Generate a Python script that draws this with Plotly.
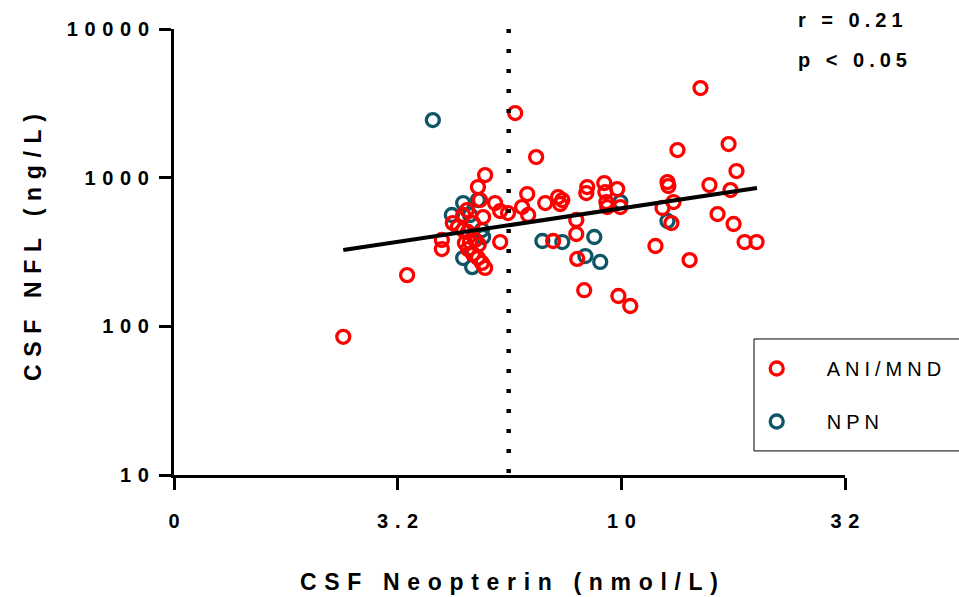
import plotly.graph_objects as go

# ---------------- data ----------------
ani_x = [2.39, 3.32, 3.97, 3.97, 4.20, 4.31, 4.43, 4.52, 4.54, 4.59, 4.47, 4.54,
         4.66, 4.66, 4.78, 4.78, 4.88, 4.96, 4.96, 4.83, 5.22, 5.36, 5.58, 5.36,
         5.79, 6.45, 6.16, 6.00, 6.19, 6.76, 7.22, 7.38, 7.30, 7.04, 7.93, 7.93,
         7.97, 8.26, 8.39, 8.35, 9.16, 9.21, 9.26, 9.30, 9.79, 9.95, 9.85, 10.47,
         11.92, 12.36, 12.68, 12.74, 13.08, 12.94, 13.35, 14.21, 15.03, 15.74,
         16.41, 17.37, 17.54, 17.82, 18.09, 18.86, 20.06, 4.91, 4.43, 4.71, 4.80]
ani_y = [85, 221, 381, 331, 495, 465, 444, 605, 431, 369, 363, 331,
         495, 306, 865, 288, 267, 247, 1041, 707, 675, 596, 578, 369,
         2719, 1376, 776, 634, 561, 675, 740, 707, 665, 375, 519, 418,
         284, 175, 865, 788, 920, 800, 685, 634, 838, 634, 160, 137,
         347, 625, 934, 878, 685, 495, 1533, 279, 4005, 892,
         569, 1683, 825, 488, 1108, 369, 369, 543, 561, 381, 355]

npn_x = [3.79, 4.18, 4.43, 4.78, 4.91, 4.43, 4.64, 4.88, 6.66, 7.38, 8.70,
         8.31, 8.97, 9.95, 12.68, 4.59]
npn_y = [2440, 561, 675, 707, 399, 288, 250, 444, 375, 369, 399,
         297, 271, 685, 511, 561]

fit_x = [2.39, 20.1]
fit_y = [326, 851]

neopterin_cutoff = 5.6

x_tickvals = [1, 3.1623, 10, 31.623]
x_ticktext = ["0", "3.2", "10", "32"]
y_tickvals = [10, 100, 1000, 10000]
y_ticktext = ["10", "100", "1000", "10000"]

series_names = ["ANI/MND", "NPN"]
x_title = "CSF Neopterin (nmol/L)"
y_title = "CSF NFL (ng/L)"
stats_lines = ["r = 0.21", "p < 0.05"]

# ---------------- styling ----------------
FONT = "Liberation Sans, Arial, sans-serif"
RED = "#FF0000"
TEAL = "#0E5565"
SP = "\u2004"
SP_SMALL = "\u2005"


def spaced(s, gap=SP):
    return gap.join(s)


fig = go.Figure()

fig.add_trace(go.Scatter(
    x=npn_x, y=npn_y, mode="markers", name=spaced(series_names[1], SP_SMALL),
    legendgroup="b", legendrank=2,
    marker=dict(symbol="circle-open", size=13, color=TEAL, line=dict(width=3.3, color=TEAL)),
))
fig.add_trace(go.Scatter(
    x=ani_x, y=ani_y, mode="markers", name=spaced(series_names[0], SP_SMALL),
    legendgroup="a", legendrank=1,
    marker=dict(symbol="circle-open", size=13, color=RED, line=dict(width=3.3, color=RED)),
))
fig.add_trace(go.Scatter(
    x=[neopterin_cutoff, neopterin_cutoff], y=[10000, 10], mode="lines",
    line=dict(color="black", width=4.5, dash="4px,16px"), showlegend=False, hoverinfo="skip",
))
fig.add_trace(go.Scatter(
    x=fit_x, y=fit_y, mode="lines", line=dict(color="black", width=4),
    showlegend=False, hoverinfo="skip",
))

axis_common = dict(
    showgrid=False, zeroline=False, showline=True, linecolor="black", linewidth=3,
    ticks="outside", ticklen=12, tickwidth=3, tickcolor="black",
    tickfont=dict(family=FONT, size=20, color="black", weight="bold"),
)

fig.update_xaxes(type="log", range=[0, 1.5], tickvals=x_tickvals,
                 ticktext=[spaced(t) for t in x_ticktext], ticklabelstandoff=14, **axis_common)
fig.update_yaxes(type="log", range=[1, 4], tickvals=y_tickvals,
                 ticktext=[spaced(t) for t in y_ticktext], ticklabelstandoff=6, **axis_common)

annotations = [
    dict(text=spaced(x_title), xref="paper", yref="paper", x=0.499, y=-0.24,
         showarrow=False, xanchor="center", yanchor="middle",
         font=dict(family=FONT, size=23, color="black", weight="bold")),
    dict(text=spaced(y_title), xref="paper", yref="paper", x=-0.21, y=0.509,
         textangle=-90, showarrow=False, xanchor="center", yanchor="middle",
         font=dict(family=FONT, size=23, color="black", weight="bold")),
    dict(text=spaced(stats_lines[0], SP_SMALL), xref="paper", yref="paper", x=1.0075, y=1.020,
         showarrow=False, xanchor="center", yanchor="middle",
         font=dict(family=FONT, size=20, color="black", weight="bold")),
    dict(text=spaced(stats_lines[1], SP_SMALL), xref="paper", yref="paper", x=1.0105, y=0.930,
         showarrow=False, xanchor="center", yanchor="middle",
         font=dict(family=FONT, size=20, color="black", weight="bold")),
]

fig.update_layout(
    width=959, height=597,
    margin=dict(l=174, r=114, t=29, b=122, autoexpand=False),
    paper_bgcolor="white", plot_bgcolor="white",
    showlegend=True,
    legend=dict(x=0.8237, y=0.2825, xanchor="left", yanchor="top",
                bgcolor="rgba(0,0,0,0)", borderwidth=0, itemwidth=90,
                tracegroupgap=24,
                font=dict(family=FONT, size=20, color="black")),
    annotations=annotations,
    shapes=[dict(type="rect", xref="paper", yref="paper", x0=0.8644, x1=1.3,
                 y0=0.054, y1=0.305, line=dict(color="black", width=1))],
)

fig.write_html("out.html")
